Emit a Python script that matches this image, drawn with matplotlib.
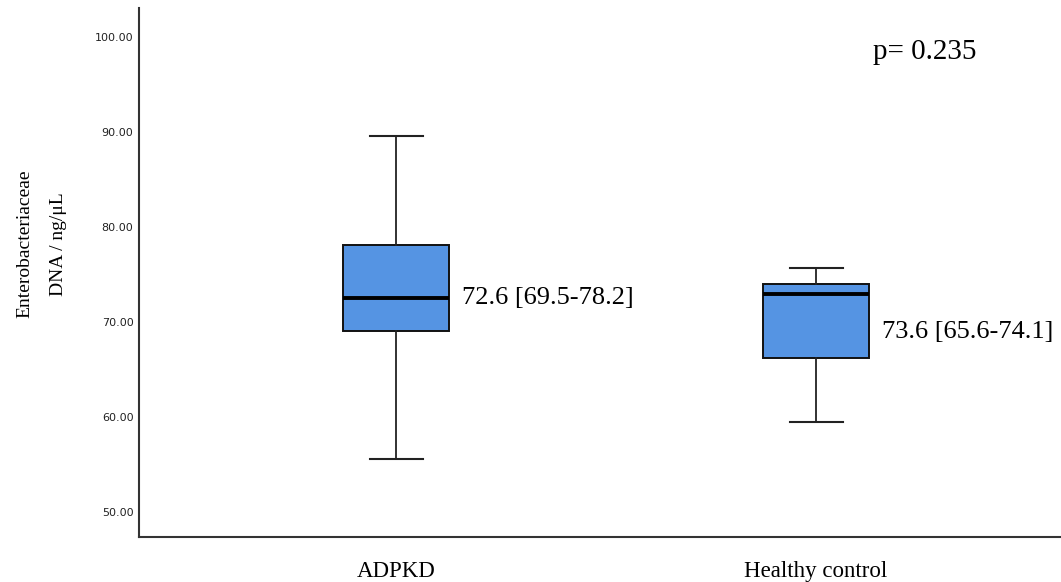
import matplotlib
matplotlib.use('Agg')
from matplotlib import pyplot as plt

# values
groups = ['ADPKD', 'Healthy control']
whisker_low = [55.6, 59.5]
q1 = [69.05, 66.2]
median = [72.5, 72.95]
q3 = [78.1, 74.0]
whisker_high = [89.6, 75.7]
box_notes = ['72.6 [69.5-78.2]', '73.6 [65.6-74.1]']
note_y = [72.5, 68.95]
p_text = 'p= 0.235'
y_ticks = [50, 60, 70, 80, 90, 100]

serif = ['Liberation Serif', 'DejaVu Serif']

fig = plt.figure(figsize=(10.61, 5.82), dpi=100)
ax = fig.add_axes([139/1061, 45/582, 922/1061, 529/582])

stats = []
for i in range(len(groups)):
    stats.append({'label': groups[i], 'whislo': whisker_low[i], 'q1': q1[i],
                  'med': median[i], 'q3': q3[i], 'whishi': whisker_high[i], 'fliers': []})

ax.bxp(stats, positions=[1, 2], widths=0.252, patch_artist=True, showfliers=False,
       boxprops=dict(facecolor='#5594e3', edgecolor='#111111', linewidth=1.4),
       medianprops=dict(color='black', linewidth=2.8),
       whiskerprops=dict(color='#222222', linewidth=1.3),
       capprops=dict(color='#222222', linewidth=1.5),
       capwidths=0.126)

ax.set_xlim(0.388, 2.583)
ax.set_ylim(47.37, 103.05)
ax.set_yticks(y_ticks)
ax.set_yticklabels(['%.2f' % v for v in y_ticks], fontsize=8, color='#222222')
ax.tick_params(axis='y', length=0, pad=4)
ax.tick_params(axis='x', length=0, pad=17)
for lab in ax.get_xticklabels():
    lab.set_family(serif)
    lab.set_fontsize(16.5)

for s in ['top', 'right']:
    ax.spines[s].set_visible(False)
for s in ['left', 'bottom']:
    ax.spines[s].set_color('#333333')
    ax.spines[s].set_linewidth(1.5)

for i in range(len(groups)):
    ax.text(i + 1 + 0.158, note_y[i], box_notes[i], family=serif, fontsize=19,
            va='center', ha='left')

ax.text(2.136, 98.4, p_text, family=serif, fontsize=21, va='center', ha='left')

fig.text(41.5/1061, 1 - 244/582, 'Enterobacteriaceae\nDNA / ng/μL', family=serif,
         fontsize=14, rotation=90, ha='center', va='center', linespacing=2.3,
         multialignment='center')

fig.savefig('out.png', dpi=100)
